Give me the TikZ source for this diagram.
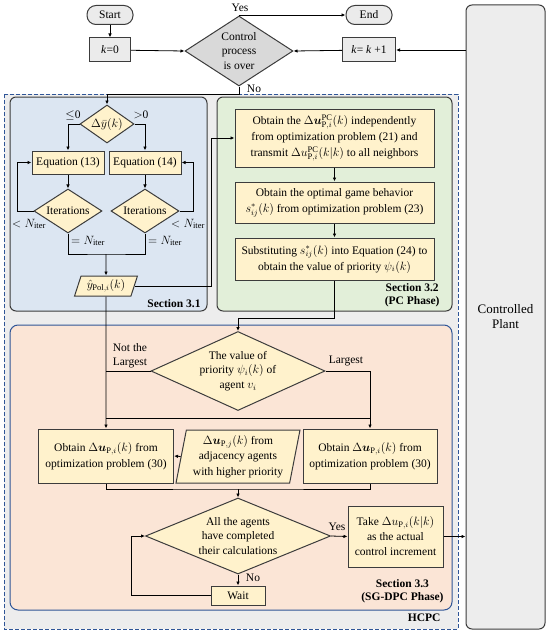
\documentclass[tikz,border=0pt]{standalone}
\usepackage{bm}
\usepackage{fontspec}
\setmainfont{Liberation Serif}
\DeclareMathSizes{11.5}{11.5}{8.5}{7}
\usetikzlibrary{shapes.geometric}
\usetikzlibrary{arrows.meta}
\definecolor{hcpcgray}{RGB}{237,237,237}
\definecolor{hcpcblue}{RGB}{47,85,151}
\definecolor{secblue}{RGB}{220,230,242}
\definecolor{secgreen}{RGB}{226,239,217}
\definecolor{secorange}{RGB}{251,229,214}
\definecolor{boxyellow}{RGB}{255,242,204}
\definecolor{nodegray}{RGB}{217,217,217}
\definecolor{termgray}{RGB}{235,235,235}
\definecolor{edge}{RGB}{60,60,60}
\tikzset{
  conn/.style={line width=0.8pt, black},
  arr/.style={conn, -{Latex[length=4pt,width=3.5pt]}},
  term/.style={draw=edge, line width=1pt, fill=termgray, rounded corners=9pt, minimum width=46, minimum height=19, inner sep=0pt},
  graybox/.style={draw=edge, line width=1pt, fill=termgray, inner sep=0pt},
  graydia/.style={diamond, draw=edge, line width=1pt, fill=nodegray, inner sep=0pt, align=center, font=\fontsize{11.5}{14.5}\selectfont},
  ybox/.style={draw=edge, line width=1pt, fill=boxyellow, inner sep=0pt, align=center, font=\fontsize{11.5}{16}\selectfont},
  ydia/.style={diamond, draw=edge, line width=1pt, fill=boxyellow, inner sep=0pt, align=center, font=\fontsize{11.5}{14.5}\selectfont},
  ypara/.style={trapezium, trapezium stretches=true, draw=edge, line width=1pt, fill=boxyellow, inner sep=0pt, align=center, font=\fontsize{11.5}{15.5}\selectfont},
  plantbox/.style={draw=edge, line width=1pt, fill=hcpcgray, rounded corners=6pt, minimum width=79, minimum height=624, align=center, font=\fontsize{13}{15}\selectfont},
  secfont/.style={font=\fontsize{11.5}{13}\selectfont\bfseries, align=center},
}

\begin{document}
\begin{tikzpicture}[x=1pt, y=-1pt, font=\fontsize{11.5}{14}\selectfont]
    \useasboundingbox (0,0) rectangle (550,634);

    % regions
    \draw[dash pattern=on 4pt off 2pt, draw=hcpcblue, line width=1pt, fill=hcpcgray] (4,94) rectangle (458,629);
    \draw[draw=edge, line width=1pt, fill=secblue, rounded corners=6pt] (10,97) rectangle (207,311);
    \draw[draw=edge, line width=1pt, fill=secgreen, rounded corners=6pt] (217,97) rectangle (452,311);
    \draw[draw=hcpcblue, line width=1pt, fill=secorange, rounded corners=8pt] (10,325) rectangle (452,610);

    % top loop
    \node[term] (start) at (110,15) {Start};
    \node[term] (stop) at (369,15) {End};
    \node[graybox, minimum width=41, minimum height=24] (k0) at (110,50) {\textit{k}=0};
    \node[graydia, minimum width=108, minimum height=70, aspect=1.54] (ctrl) at (239,51) {Control\\process\\is over};
    \node[graybox, minimum width=53, minimum height=24] (k1) at (369,50) {\textit{k}= \textit{k} +1};
    \node[plantbox] (plant) at (505.5,317) {Controlled\\Plant};
    \node (yes1) at (240,8) {Yes};
    \node (no1) at (254,89) {No};

    % Section 3.1
    \node[ydia, minimum width=54, minimum height=38, aspect=1.42] (dy) at (107,124) {$\Delta\bar{y}(k)$};
    \node[ybox, minimum width=72, minimum height=23] (eq13) at (68,162.5) {Equation (13)};
    \node[ybox, minimum width=72, minimum height=23] (eq14) at (145,162.5) {Equation (14)};
    \node[ydia, minimum width=68, minimum height=44, aspect=1.55] (it1) at (68,211) {Iterations};
    \node[ydia, minimum width=68, minimum height=44, aspect=1.55] (it2) at (145,211) {Iterations};
    \node[ypara, minimum width=63, minimum height=20, trapezium left angle=68, trapezium right angle=112] (yhat) at (106,286) {$\hat{y}_{\mathrm{Pol},i}(k)$};
    \node (le0) at (73,115) {$\leq$0};
    \node (gt0) at (141,115) {$>$0};
    \node (lt1) at (29,224) {$<N_{\mathrm{iter}}$};
    \node (lt2) at (188,224) {$<N_{\mathrm{iter}}$};
    \node (eq1) at (88,241) {$=N_{\mathrm{iter}}$};
    \node (eq2) at (165,241) {$=N_{\mathrm{iter}}$};
    \node[secfont] (sec31) at (174,304) {Section 3.1};
    \coordinate (merge1) at (106,254);

    % Section 3.2
    \node[ybox, minimum width=199, minimum height=58] (pc1) at (334.5,138) {Obtain the $\Delta\bm{u}^{\mathrm{PC}}_{\mathrm{P},i}(k)$ independently\\from optimization problem (21) and\\transmit $\Delta u^{\mathrm{PC}}_{\mathrm{P},i}(k|k)$ to all neighbors};
    \node[ybox, minimum width=199, minimum height=41] (pc2) at (334.5,202.5) {Obtain the optimal game behavior\\$s^{*}_{ij}(k)$ from optimization problem (23)};
    \node[ybox, minimum width=199, minimum height=42] (pc3) at (334.5,259) {Substituting $s^{*}_{ij}(k)$ into Equation (24) to\\obtain the value of priority $\psi_i(k)$};
    \node[secfont, anchor=east] (sec32) at (443,295.5) {Section 3.2\\(PC Phase)};

    % Section 3.3
    \node[ydia, minimum width=174, minimum height=79, aspect=2.2] (prio) at (238,371) {The value of\\priority $\psi_i(k)$ of\\agent $v_i$};
    \node[ybox, minimum width=135, minimum height=54] (ob1) at (106,456) {Obtain $\Delta\bm{u}_{\mathrm{P},i}(k)$ from\\optimization problem (30)};
    \node[ypara, minimum width=124, minimum height=53, trapezium left angle=78, trapezium right angle=102] (adj) at (238,456.5) {$\Delta\bm{u}_{\mathrm{P},j}(k)$ from\\adjacency agents\\with higher priority};
    \node[ybox, minimum width=134, minimum height=54] (ob2) at (370,456) {Obtain $\Delta\bm{u}_{\mathrm{P},i}(k)$ from\\optimization problem (30)};
    \node[ydia, minimum width=185, minimum height=76, aspect=2.43] (agents) at (238,536) {All the agents\\have completed\\their calculations};
    \node[ybox, minimum width=95, minimum height=61, font=\fontsize{11.5}{15}\selectfont] (take) at (395.5,536.5) {Take $\Delta u_{\mathrm{P},i}(k|k)$\\as the actual\\control increment};
    \node[ybox, minimum width=54, minimum height=19] (wait) at (238,595.5) {Wait};
    \node[align=center] (notlg) at (130,356) {Not the\\Largest};
    \node (lg) at (346,361) {Largest};
    \node (yes2) at (337,527) {Yes};
    \node (no2) at (253,578) {No};
    \node[secfont, anchor=east] (sec33) at (447,591.5) {Section 3.3\\(SG-DPC Phase)};
    \node[secfont, anchor=east] (hcpc) at (444,618) {HCPC};
    \coordinate (merge2) at (238,489);

    % connectors
    \draw[arr] (start) -- (k0);
    \draw[arr] (k0) -- (ctrl.west);
    \draw[arr] (ctrl.north) |- (stop.west);
    \draw[arr] (plant.west |- k1) -- (k1.east);
    \draw[arr] (k1) -- (ctrl.east);
    \draw[arr] (ctrl.south) -- ++(0,8) -| (dy.north);

    \draw[arr] (dy.west) -| (eq13.north);
    \draw[arr] (dy.east) -| (eq14.north);
    \draw[arr] (eq13) -- (it1);
    \draw[arr] (eq14) -- (it2);
    \draw[arr] (it1.west) -- ++(-16,0) |- (eq13.west);
    \draw[arr] (it2.east) -- ++(14,0) |- (eq14.east);
    \draw[conn] (it1.south) |- (merge1) -| (it2.south);
    \draw[arr] (merge1) -- (yhat.north);
    \draw[arr] (yhat.east) -| ([xshift=-23pt]pc1.west) -- (pc1.west);

    \draw[arr] (pc1) -- (pc2);
    \draw[arr] (pc2) -- (pc3);
    \draw[arr] (pc3.south) -- ++(0,38) -| (prio.north);

    \draw[arr] (yhat.south) -- (ob1.north);
    \draw[conn] (prio.west) -- (prio.west -| ob1.north);
    \draw[arr] (prio.east) -| (ob2.north);
    \draw[conn] ([yshift=10pt]ob1.north) -- ([yshift=10pt]ob2.north);
    \draw[arr] (adj.west) -- (ob1.east);
    \draw[conn] (ob1.south) |- (merge2) -| (ob2.south);
    \draw[arr] (merge2) -- (agents.north);
    \draw[arr] (agents.east) -- (take.west);
    \draw[arr] (take.east) -- (take.east -| plant.west);
    \draw[arr] (agents.south) -- (wait.north);
    \draw[arr] (wait.west) -- ++(-79,0) |- (agents.west);

\end{tikzpicture}
\end{document}
